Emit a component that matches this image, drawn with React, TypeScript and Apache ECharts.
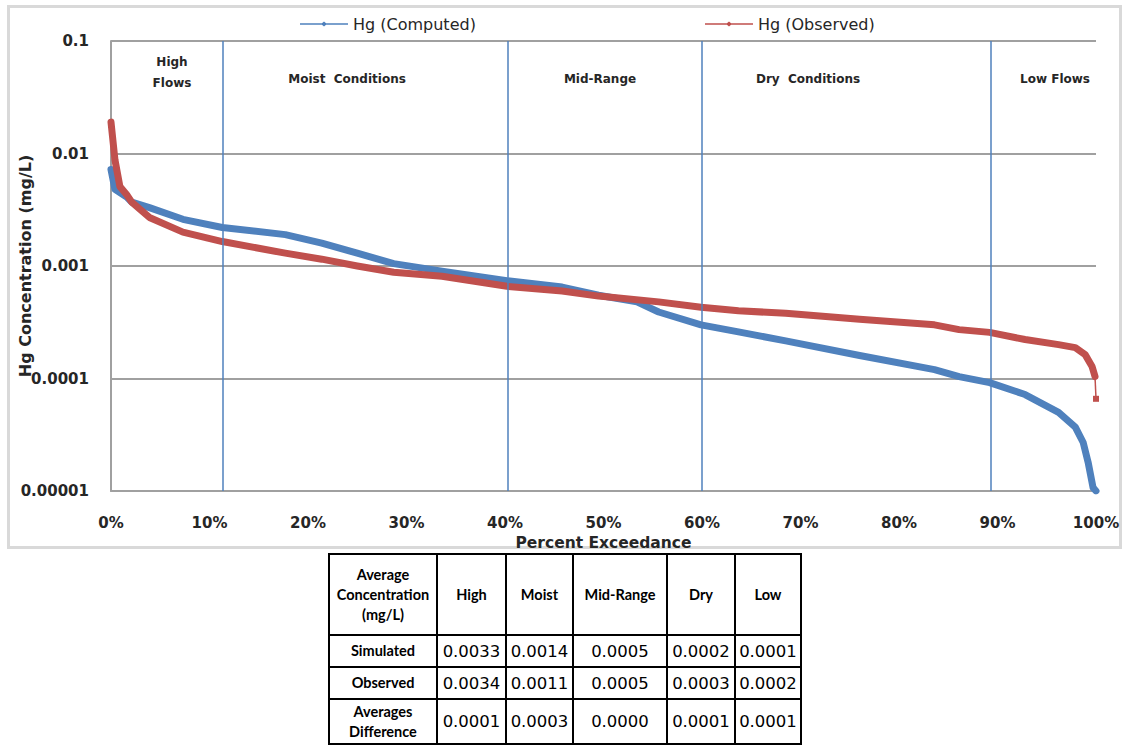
import React, { useEffect, useRef } from 'react';
import * as echarts from 'echarts';

// ---- Data ----
const exceedanceComputed = [0, 0.4, 1.6, 2.1, 3.9, 7.3, 11.3, 17.7, 21.4, 25, 28.7, 33.6, 40.2, 45.8, 49.5, 53.4, 55.6, 59.9, 63.7, 68.5, 76, 83.6, 86.1, 89.2, 92.8, 96.2, 97.9, 98.7, 99.2, 99.7, 100];
const hgComputed = [0.0072, 0.0048, 0.0041, 0.0037, 0.0033, 0.0026, 0.0022, 0.0019, 0.0016, 0.0013, 0.00105, 0.0009, 0.00074, 0.00065, 0.00055, 0.00048, 0.00039, 0.0003, 0.00026, 0.000216, 0.00016, 0.00012, 0.000104, 0.000092, 0.000072, 0.00005, 0.000037, 0.000027, 0.000018, 0.0000107, 0.00001];

const exceedanceObserved = [0, 0.4, 0.9, 1.6, 2.1, 3.9, 7.3, 11.3, 17.7, 21.4, 25, 28.7, 33.6, 40.2, 45.8, 49.5, 55.6, 59.9, 63.7, 68.5, 76, 83.6, 86.1, 89.2, 92.8, 96.2, 97.9, 98.9, 99.6, 99.9, 100];
const hgObserved = [0.019, 0.0088, 0.0051, 0.0043, 0.0037, 0.0027, 0.002, 0.00165, 0.0013, 0.00115, 0.001, 0.00088, 0.00081, 0.00066, 0.0006, 0.00054, 0.00048, 0.00043, 0.0004, 0.00038, 0.000336, 0.0003, 0.000272, 0.000257, 0.000222, 0.0002, 0.000188, 0.000163, 0.000128, 0.000104, 0.000066];

const zoneBoundaries = [11.35, 40.3, 60.0, 89.3];
const zoneLabels = ['High\nFlows', 'Moist  Conditions', 'Mid-Range', 'Dry  Conditions', 'Low Flows'];
const yTickLabels = ['0.00001', '0.0001', '0.001', '0.01', '0.1'];
const xTickSuffix = '%';
const yAxisTitle = 'Hg Concentration (mg/L)';
const xAxisTitle = 'Percent Exceedance';

const seriesNames = ['Hg (Computed)', 'Hg (Observed)'];

const tableHeader = ['Average\nConcentration\n(mg/L)', 'High', 'Moist', 'Mid-Range', 'Dry', 'Low'];
const tableRowLabels = ['Simulated', 'Observed', 'Averages\nDifference'];
const tableSimulated = ['0.0033', '0.0014', '0.0005', '0.0002', '0.0001'];
const tableObserved = ['0.0034', '0.0011', '0.0005', '0.0003', '0.0002'];
const tableDifference = ['0.0001', '0.0003', '0.0000', '0.0001', '0.0001'];

const BLUE = '#4f81bd';
const RED = '#c0504d';
const GRID = '#a0a0a0';
const TXT = '#262626';
const TICK_FONT = 'DejaVu Sans';
const LABEL_FONT = 'Lato';

const legendIcon = 'path://M0,2.2 L48,2.2 L48,3.8 L0,3.8 Z M24,0.5 L27,3 L24,5.5 L21,3 Z';

function zip(xs: number[], ys: number[]) {
  return xs.map((x, i) => [x, ys[i]]);
}

export default function App() {
  const ref = useRef<HTMLDivElement>(null);

  useEffect(() => {
    if (!ref.current) return;
    const chart = echarts.init(ref.current, null, { renderer: 'svg' });
    const obs = zip(exceedanceObserved, hgObserved);
    const obsMain = obs.slice(0, -1);
    const obsTail = obs.slice(-2).map((p, i) => ({ value: p, symbol: i === 0 ? 'none' : 'rect' }));

    const zoneLabelPos = [
      [172, 72], [347, 79], [600, 79], [808, 79], [1055, 79],
    ];

    chart.setOption({
      animation: false,
      backgroundColor: '#fff',
      textStyle: { fontFamily: LABEL_FONT },
      grid: { left: 111, right: 34, top: 41, bottom: 552 - 491, containLabel: false, outerBoundsMode: 'none' },
      legend: [
        {
          data: [seriesNames[0]], left: 295, top: 11, itemWidth: 48, itemHeight: 6, itemGap: 6,
          icon: legendIcon,
          textStyle: { fontFamily: TICK_FONT, fontSize: 16, color: TXT },
        },
        {
          data: [seriesNames[1]], left: 700, top: 11, itemWidth: 48, itemHeight: 6, itemGap: 6,
          icon: legendIcon,
          textStyle: { fontFamily: TICK_FONT, fontSize: 16, color: TXT },
        },
      ],
      xAxis: {
        type: 'value', min: 0, max: 100, interval: 10,
        name: xAxisTitle, nameLocation: 'middle', nameGap: 43,
        nameTextStyle: { fontFamily: TICK_FONT, fontWeight: 'bold', fontSize: 15.5, color: TXT },
        axisLine: { show: true, lineStyle: { color: GRID, width: 2 } },
        axisTick: { show: false },
        splitLine: { show: false },
        axisLabel: {
          formatter: (v: number) => `${v}${xTickSuffix}`,
          margin: 24, fontFamily: TICK_FONT, fontWeight: 'bold', fontSize: 15, color: TXT,
        },
      },
      yAxis: {
        type: 'log', logBase: 10, min: 0.00001, max: 0.1,
        axisLine: { show: true, lineStyle: { color: GRID, width: 2 } },
        axisTick: { show: false },
        minorTick: { show: false },
        splitLine: { show: true, lineStyle: { color: GRID, width: 2 } },
        axisLabel: {
          formatter: (v: number) => yTickLabels[Math.round(Math.log10(v)) + 5] ?? '',
          margin: 22, fontFamily: TICK_FONT, fontWeight: 'bold', fontSize: 15, color: TXT,
        },
      },
      series: [
        {
          name: seriesNames[0], type: 'line', data: zip(exceedanceComputed, hgComputed),
          symbol: 'none', itemStyle: { color: BLUE },
          lineStyle: { color: BLUE, width: 7, cap: 'round', join: 'round' },
          z: 2,
          markLine: {
            silent: true, symbol: ['none', 'none'], label: { show: false },
            lineStyle: { color: BLUE, width: 1.5, type: 'solid' },
            data: zoneBoundaries.map((x) => ({ xAxis: x })),
            z: 5,
          },
        },
        {
          name: seriesNames[1], type: 'line', data: obsMain,
          symbol: 'none', itemStyle: { color: RED },
          lineStyle: { color: RED, width: 7, cap: 'round', join: 'round' },
          z: 3,
        },
        {
          name: 'tail', type: 'line', data: obsTail, symbolSize: 6,
          itemStyle: { color: RED }, lineStyle: { color: RED, width: 1.5 }, z: 3,
        },
      ],
      graphic: [
        {
          type: 'rect', silent: true, z: -10,
          shape: { x: 8.5, y: 6.5, width: 1112, height: 541 },
          style: { fill: 'none', stroke: '#d9d9d9', lineWidth: 3 },
        },
        {
          type: 'text', silent: true, x: 25, y: 266, rotation: Math.PI / 2,
          style: {
            text: yAxisTitle, fill: TXT, font: `bold 16px ${TICK_FONT}`,
            textAlign: 'center', textVerticalAlign: 'middle',
          },
        },
        ...zoneLabels.map((t, i) => ({
          type: 'text', silent: true,
          x: zoneLabelPos[i][0], y: zoneLabelPos[i][1],
          style: {
            text: t, fill: TXT, font: `bold 12px ${TICK_FONT}`,
            textAlign: 'center', textVerticalAlign: 'middle', lineHeight: 21,
          },
        })),
      ],
    });
    return () => chart.dispose();
  }, []);

  const colW = [108, 69, 67, 94, 68, 66];
  const rowH = [81, 32, 32, 45];
  const border = '2px solid #000';
  const headStyle: React.CSSProperties = {
    fontFamily: 'Lato', fontWeight: 700, fontSize: 14.5, color: '#000', lineHeight: '20px',
  };
  const valStyle: React.CSSProperties = {
    fontFamily: 'DejaVu Sans', fontWeight: 400, fontSize: 16.5, color: '#000',
  };
  const rows = [tableSimulated, tableObserved, tableDifference];
  const multi = (t: string) => t.split('\n').map((s, i) => (
    <React.Fragment key={i}>{i > 0 && <br />}{s}</React.Fragment>
  ));

  return (
    <div style={{ position: 'absolute', left: 0, top: 0, width: 1130, height: 746, background: '#fff' }}>
      <div ref={ref} style={{ position: 'absolute', left: 0, top: 0, width: 1130, height: 552 }} />
      <table
        style={{
          position: 'absolute', left: 328, top: 553, borderCollapse: 'collapse',
          tableLayout: 'fixed', width: colW.reduce((a, b) => a + b, 0),
        }}
      >
        <colgroup>
          {colW.map((w, i) => <col key={i} style={{ width: w }} />)}
        </colgroup>
        <tbody>
          <tr style={{ height: rowH[0] }}>
            {tableHeader.map((h, i) => (
              <td key={i} style={{ ...headStyle, border, textAlign: 'center', padding: 0 }}>{multi(h)}</td>
            ))}
          </tr>
          {rows.map((r, ri) => (
            <tr key={ri} style={{ height: rowH[ri + 1] }}>
              <td style={{ ...headStyle, border, textAlign: 'center', padding: 0 }}>{multi(tableRowLabels[ri])}</td>
              {r.map((v, ci) => (
                <td key={ci} style={{ ...valStyle, border, textAlign: 'center', padding: 0 }}>{v}</td>
              ))}
            </tr>
          ))}
        </tbody>
      </table>
    </div>
  );
}
